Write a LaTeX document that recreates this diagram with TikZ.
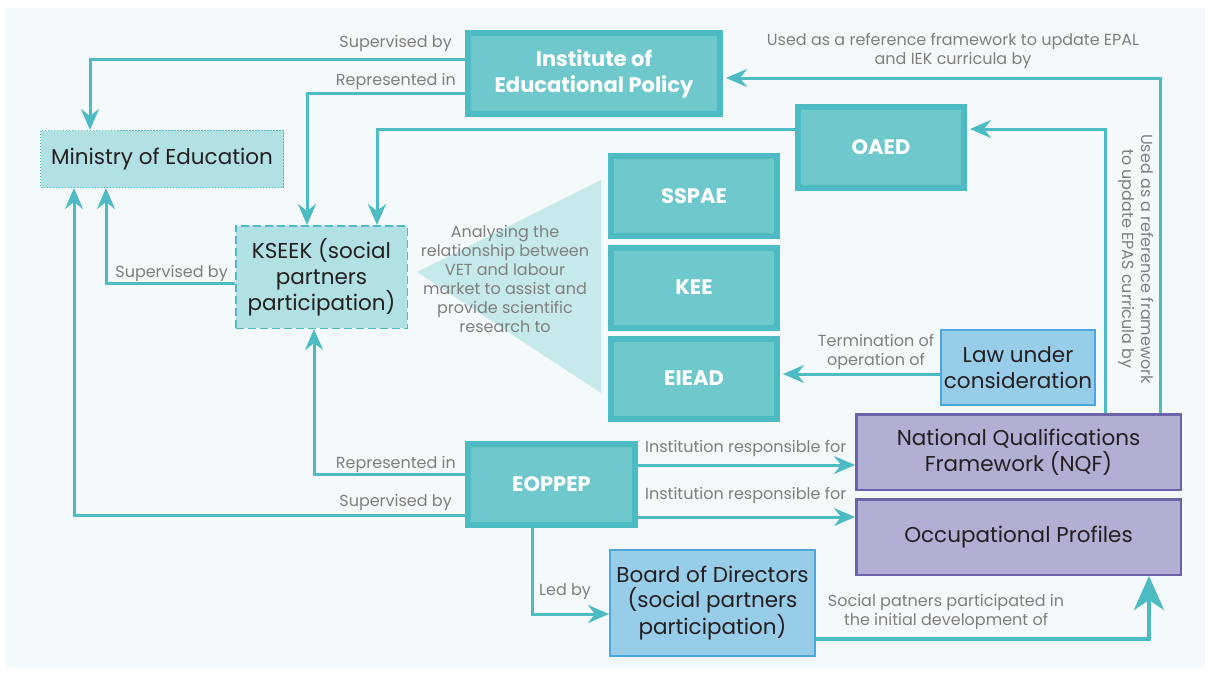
\documentclass[tikz,border=0pt]{standalone}
\usepackage{fontspec}
\setmainfont{Poppins}
\usetikzlibrary{arrows.meta}
\definecolor{tealdk}{HTML}{4DBBC4}
\definecolor{tealmd}{HTML}{6FC8CC}
\definecolor{teallt}{HTML}{B2E1E4}
\definecolor{tricol}{HTML}{C6E9EC}
\definecolor{bgcol}{HTML}{F4F9FC}
\definecolor{bluefill}{HTML}{98CDEA}
\definecolor{bluedraw}{HTML}{4DA6DE}
\definecolor{purfill}{HTML}{B2AFD5}
\definecolor{purdraw}{HTML}{6C63AB}
\definecolor{txtcol}{HTML}{231F20}
\definecolor{lblcol}{HTML}{7F7F7F}
\tikzset{
  tealbox/.style={draw=tealdk, fill=tealmd, line width=6pt, text=white,
    font=\bfseries\fontsize{21}{26}\selectfont, align=center,
    minimum width=166pt, minimum height=80pt, inner sep=0pt},
  lightbox/.style={fill=teallt, draw=tealdk, text=txtcol,
    font=\fontsize{21.5}{26}\selectfont, align=center, inner sep=0pt},
  bluebox/.style={fill=bluefill, draw=bluedraw, line width=2pt, text=txtcol,
    font=\fontsize{21.5}{25.5}\selectfont, align=center, inner sep=0pt},
  purbox/.style={fill=purfill, draw=purdraw, line width=2.5pt, text=txtcol,
    font=\fontsize{21.5}{26}\selectfont, align=center, inner sep=0pt,
    minimum width=324.5pt, minimum height=75.5pt},
  lbl/.style={text=lblcol, font=\fontsize{16}{19}\selectfont, align=center, inner sep=0pt},
  conn/.style={draw=tealdk, line width=3pt, -{Stealth[length=21pt,width=18pt,inset=7pt]}}
}
\begin{document}
\begin{tikzpicture}[x=1pt, y=-1pt]
  \useasboundingbox (0,0) rectangle (1210,673);
  \fill[white] (0,0) rectangle (1210,673);
  \fill[bgcol] (5,8) rectangle (1205,668);
  \fill[tricol] (417,272) -- (601,180) -- (601,393) -- cycle;

  \node[tealbox, minimum width=252pt, minimum height=81pt] (iep) at (594,73.5) {Institute of\\Educational Policy};
  \node[tealbox, minimum height=81pt] (oaed) at (881,147.5) {OAED};
  \node[tealbox] (sspae) at (694,196) {SSPAE};
  \node[tealbox] (kee) at (694,287.5) {KEE};
  \node[tealbox] (eiead) at (694,378.5) {EIEAD};
  \node[tealbox, minimum width=167pt, minimum height=81pt] (eoppep) at (551.5,484.5) {EOPPEP};
  \node[lightbox, line width=1pt, dash pattern=on 1.5pt off 1.5pt,
        minimum width=243pt, minimum height=57pt] (min) at (162,159) {Ministry of Education};
  \node[lightbox, line width=1.5pt, dash pattern=on 8pt off 4pt,
        minimum width=171.5pt, minimum height=102.5pt] (kseek) at (321.5,277) {KSEEK (social\\partners\\participation)};
  \node[bluebox, minimum width=154pt, minimum height=75pt] (law) at (1018,367.5) {Law under\\consideration};
  \node[bluebox, minimum width=205pt, minimum height=106pt] (board) at (712.5,603) {Board of Directors\\(social partners\\participation)};
  \node[purbox] (nqf) at (1018.5,452) {National Qualifications\\Framework (NQF)};
  \node[purbox] (occ) at (1018.5,537) {Occupational Profiles};

  \draw[conn] (iep.west |- 0,59) -| (90,0 |- min.north);
  \draw[conn] (iep.west |- 0,93) -| (307,0 |- kseek.north);
  \draw[conn] (oaed.west |- 0,129) -| (377,0 |- kseek.north);
  \draw[conn] (kseek.west |- 0,283) -| (106,0 |- min.south);
  \draw[conn] (eoppep.west |- 0,515) -| (74,0 |- min.south);
  \draw[conn] (eoppep.west |- 0,474) -| (314,0 |- kseek.south);
  \draw[conn] (eoppep.east |- 0,465) -- (nqf.west |- 0,465);
  \draw[conn] (eoppep.east |- 0,517) -- (occ.west |- 0,517);
  \draw[conn] (532,0 |- eoppep.south) |- (board.west |- 0,614);
  \draw[conn, line width=4.5pt, -{Stealth[length=34pt,width=30pt,inset=10pt]}]
    (board.east |- 0,639) -| (1149,0 |- occ.south);
  \draw[conn, shorten >=3pt] (1160,0 |- nqf.north) |- (iep.east |- 0,78);
  \draw[conn, shorten >=3pt] (1105,0 |- nqf.north) |- (oaed.east |- 0,129);
  \draw[conn, shorten >=3pt] (law.west |- 0,374) -- (eiead.east |- 0,374);

  \node[lbl, anchor=base east] (supiep) at (452,47.5) {Supervised by};
  \node[lbl, anchor=base east] (repiep) at (456,85) {Represented in};
  \node[lbl, anchor=base east] (supkseek) at (228,277) {Supervised by};
  \node[lbl, anchor=base east] (repeop) at (456,468) {Represented in};
  \node[lbl, anchor=base east] (supeop) at (452,506) {Supervised by};
  \node[lbl, anchor=base west] (ledby) at (539,595) {Led by};
  \node[lbl, anchor=base west] (resnqf) at (645,452) {Institution responsible for};
  \node[lbl, anchor=base west] (resocc) at (645,499) {Institution responsible for};
  \node[lbl] (social) at (946,612) {Social patners participated in\\the initial development of};
  \node[lbl] (term) at (876,352) {Termination of\\operation of};
  \node[lbl] (epal) at (953,51) {Used as a reference framework to update EPAL\\and IEK curricula by};
  \node[lbl, rotate=-90] (epas) at (1136,259) {Used as a reference framework\\to update EPAS curricula by};
  \node[lbl] (ana) at (505,279) {Analysing the\\relationship between\\VET and labour\\market to assist and\\provide scientific\\research to};
\end{tikzpicture}
\end{document}
